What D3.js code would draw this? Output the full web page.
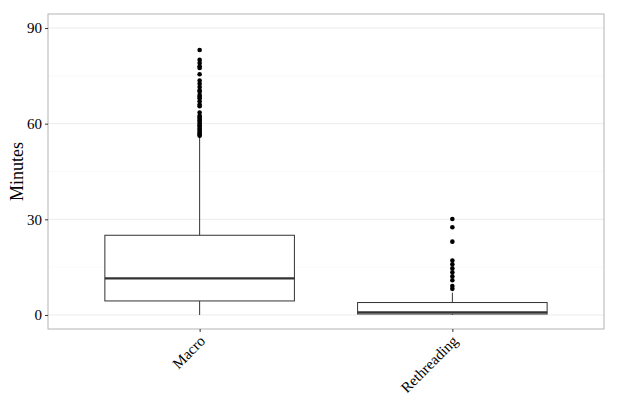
<!DOCTYPE html>
<html>
<head>
<meta charset="utf-8">
<script src="https://cdn.jsdelivr.net/npm/d3@7"></script>
<style>
body { margin: 0; background: #fff; }
svg text { font-family: "Liberation Serif", "DejaVu Serif", serif; }
</style>
</head>
<body>
<svg id="chart" width="620" height="420"></svg>
<script>
const categories = ["Macro", "Rethreading"];
const q1 = [4.4, 0.3];
const median = [11.5, 0.8];
const q3 = [25.0, 3.9];
const whiskerLow = [0, 0];
const whiskerHigh = [55.8, 7.0];
const outliersMacro = [83.1, 80.0, 79.0, 78.0, 77.5, 75.5, 73.5, 72.5, 71.5, 70.5, 70.0, 69.0, 68.5, 68.0, 67.0, 66.0, 65.5, 63.5, 62.5, 62.0, 61.5, 61.0, 60.5, 60.0, 59.5, 59.0, 58.5, 58.0, 57.5, 57.0, 56.5, 56.2];
const outliersRethreading = [30.1, 27.5, 23.0, 17.1, 15.9, 14.6, 13.4, 12.1, 10.9, 9.1, 8.2];
const yTicks = [0, 30, 60, 90];
const yMinor = [15, 45, 75];
const yLabel = "Minutes";

const outliers = [outliersMacro, outliersRethreading];
const svg = d3.select("#chart");
const m = { left: 48, right: 604, top: 14, bottom: 329 };

const x = d3.scalePoint().domain(categories).range([m.left, m.right]).padding(0.6);
const boxW = x.step() * 0.75;
const y = d3.scaleLinear().domain([-4.4, 94.4]).range([m.bottom, m.top]);

// grid
svg.append("g").selectAll("line").data(yMinor).join("line")
  .attr("x1", m.left).attr("x2", m.right)
  .attr("y1", d => y(d)).attr("y2", d => y(d))
  .attr("stroke", "#f5f5f5").attr("stroke-width", 0.6);
svg.append("g").selectAll("line").data(yTicks).join("line")
  .attr("x1", m.left).attr("x2", m.right)
  .attr("y1", d => y(d)).attr("y2", d => y(d))
  .attr("stroke", "#ebebeb").attr("stroke-width", 1);

// boxes
const data = categories.map((c, i) => ({ c, q1: q1[i], med: median[i], q3: q3[i], lo: whiskerLow[i], hi: whiskerHigh[i], out: outliers[i] }));
const g = svg.append("g");
data.forEach(d => {
  const cx = x(d.c);
  g.append("line").attr("x1", cx).attr("x2", cx).attr("y1", y(d.q3)).attr("y2", y(d.hi)).attr("stroke", "#333").attr("stroke-width", 1);
  g.append("line").attr("x1", cx).attr("x2", cx).attr("y1", y(d.q1)).attr("y2", y(d.lo)).attr("stroke", "#333").attr("stroke-width", 1);
  g.append("rect").attr("x", cx - boxW / 2).attr("width", boxW)
    .attr("y", y(d.q3)).attr("height", y(d.q1) - y(d.q3))
    .attr("fill", "#fff").attr("stroke", "#333").attr("stroke-width", 1);
  g.append("line").attr("x1", cx - boxW / 2).attr("x2", cx + boxW / 2)
    .attr("y1", y(d.med)).attr("y2", y(d.med)).attr("stroke", "#333").attr("stroke-width", 2.2);
  g.selectAll(null).data(d.out).join("circle")
    .attr("cx", cx).attr("cy", v => y(v)).attr("r", 2.3).attr("fill", "#000");
});

// panel border
svg.append("rect").attr("x", m.left).attr("y", m.top).attr("width", m.right - m.left).attr("height", m.bottom - m.top)
  .attr("fill", "none").attr("stroke", "#b3b3b3").attr("stroke-width", 1);

// y axis
const yAxis = d3.axisLeft(y).tickValues(yTicks).tickSize(3).tickPadding(3);
const ya = svg.append("g").attr("transform", `translate(${m.left},0)`).call(yAxis)
  .attr("font-size", null).attr("font-family", null);
ya.select(".domain").remove();
ya.selectAll(".tick line").attr("stroke", "#333");
ya.selectAll(".tick text").style("font-size", "15px").attr("fill", "#000").style("font-family", "Liberation Serif");

// x axis
const xAxis = d3.axisBottom(x).tickSize(3).tickPadding(2);
const xa = svg.append("g").attr("transform", `translate(0,${m.bottom})`).call(xAxis)
  .attr("font-size", null).attr("font-family", null);
xa.select(".domain").remove();
xa.selectAll(".tick line").attr("stroke", "#333");
xa.selectAll(".tick text").style("font-size", "15px").attr("fill", "#000").style("font-family", "Liberation Serif")
  .attr("text-anchor", "end").attr("dy", null).attr("y", 0)
  .attr("transform", "translate(6,13) rotate(-45)");

// y label
svg.append("text").attr("transform", `translate(23,${(m.top + m.bottom) / 2}) rotate(-90)`)
  .attr("text-anchor", "middle").style("font-size", "18px").attr("fill", "#000").text(yLabel);
</script>
</body>
</html>
